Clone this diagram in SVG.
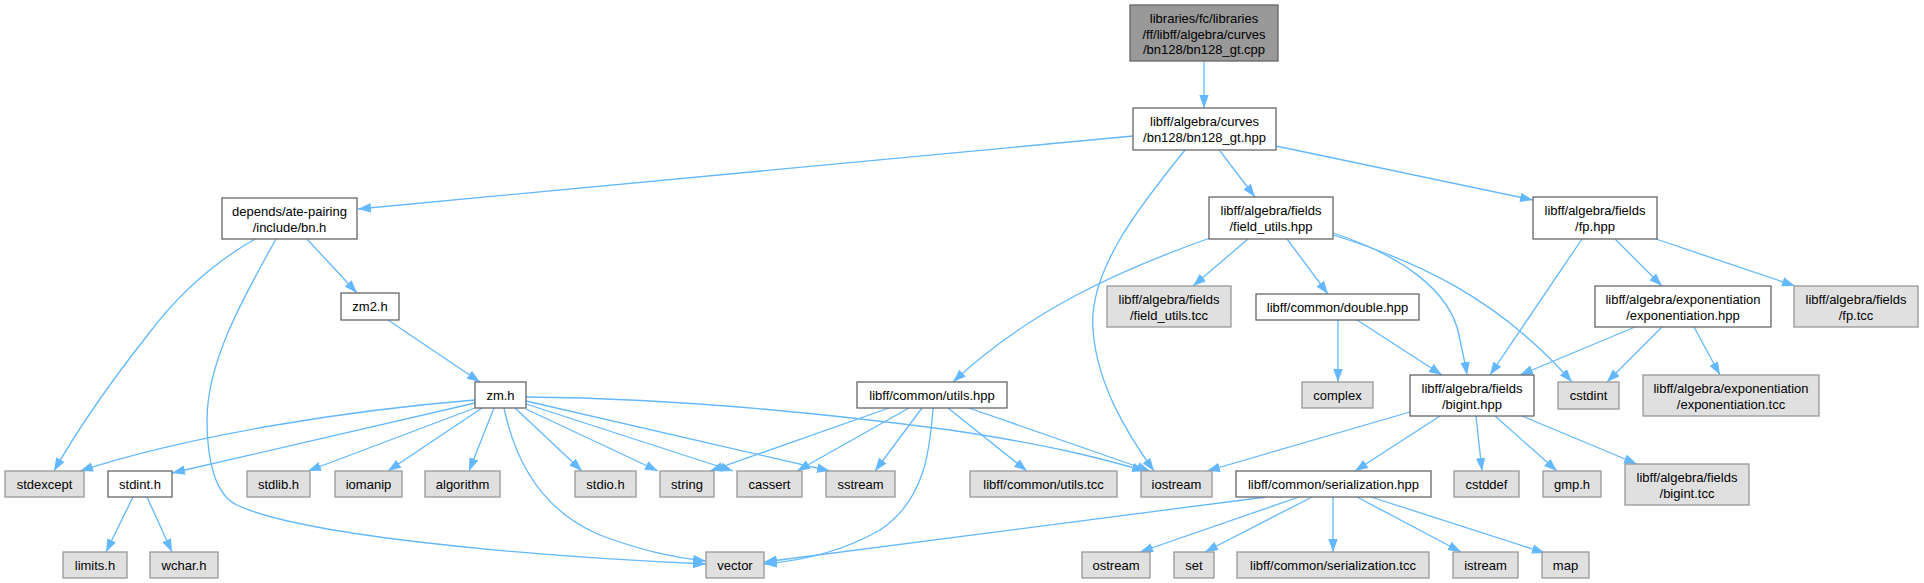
<svg xmlns="http://www.w3.org/2000/svg" width="1924" height="583" viewBox="0 0 1924 583">
<style>
.n rect{fill:#ffffff;stroke:#666666;stroke-width:1.3}
.g rect{fill:#e0e0e0;stroke:#999999;stroke-width:1.3}
.r rect{fill:#999999;stroke:#666666;stroke-width:1.3}
text{font-family:"Liberation Sans",Arial,sans-serif;font-size:13px;fill:#000;text-anchor:middle}
#edges path{fill:none;stroke:#63b8ff;stroke-width:1.3;marker-end:url(#ah)}
</style>
<defs>
<marker id="ah" markerUnits="userSpaceOnUse" markerWidth="14" markerHeight="10" refX="13" refY="4.75" orient="auto">
<path d="M0,0 L13,4.75 L0,9.5 z" fill="#63b8ff" stroke="none"/>
</marker>
</defs>
<rect width="1924" height="583" fill="#ffffff"/>
<g id="edges">
<path d="M1204,61 L1204,108"/>
<path d="M1133,136 L358,209"/>
<path d="M1185,150 C1138,208 1088,272 1093,330 C1097,385 1128,435 1154,471"/>
<path d="M1220,151 L1255,197"/>
<path d="M1276,146 L1533,200"/>
<path d="M255,239 C215,262 178,295 150,332 C120,370 80,425 54,471"/>
<path d="M276,239 C245,295 207,360 207,420 C207,460 215,495 237,505 C300,535 520,556 706,564"/>
<path d="M307,239 L357,293"/>
<path d="M388,320 L480,382"/>
<path d="M475,400 C350,410 190,435 80,471"/>
<path d="M475,403 C380,425 250,455 172,473"/>
<path d="M475,408 L308,471"/>
<path d="M482,408 L388,471"/>
<path d="M494,408 L469,471"/>
<path d="M504,408 C515,460 540,510 600,535 C640,550 670,557 706,561"/>
<path d="M515,408 L582,471"/>
<path d="M526,409 L658,471"/>
<path d="M526,404 L733,471"/>
<path d="M526,401 L830,471"/>
<path d="M526,397 C650,398 800,410 950,430 C1050,445 1100,458 1145,471"/>
<path d="M133,497 L106,552"/>
<path d="M147,497 L172,552"/>
<path d="M1210,238 C1120,270 1030,310 953,382"/>
<path d="M1248,239 L1193,286"/>
<path d="M1287,239 L1328,294"/>
<path d="M1333,233 C1400,255 1450,290 1459,335 C1462,350 1465,362 1467,375"/>
<path d="M1333,235 C1420,262 1500,300 1572,382"/>
<path d="M1582,239 L1490,375"/>
<path d="M1615,239 L1662,286"/>
<path d="M1656,239 L1795,286"/>
<path d="M1635,327 L1520,375"/>
<path d="M1662,327 L1607,382"/>
<path d="M1694,327 L1720,375"/>
<path d="M1338,320 L1338,382"/>
<path d="M1357,320 L1442,375"/>
<path d="M889,408 L710,471"/>
<path d="M909,408 L797,471"/>
<path d="M922,408 L875,471"/>
<path d="M933,408 C930,450 925,500 880,530 C840,553 800,561 764,564"/>
<path d="M948,408 L1027,471"/>
<path d="M969,408 L1150,471"/>
<path d="M1410,412 L1207,471"/>
<path d="M1440,416 L1355,471"/>
<path d="M1476,416 L1482,471"/>
<path d="M1495,416 L1557,471"/>
<path d="M1522,416 L1637,464"/>
<path d="M1266,497 L764,562"/>
<path d="M1299,497 L1140,552"/>
<path d="M1312,497 L1205,552"/>
<path d="M1333,497 L1333,552"/>
<path d="M1357,497 L1461,552"/>
<path d="M1371,497 L1545,553"/>
</g>
<g id="root" class="r"><rect x="1130" y="5" width="148" height="56"/><text x="1204" y="23">libraries/fc/libraries</text><text x="1204" y="38.5">/ff/libff/algebra/curves</text><text x="1204" y="54">/bn128/bn128_gt.cpp</text></g>
<g id="bn128_gt_hpp" class="n"><rect x="1133" y="108" width="143" height="42"/><text x="1204.5" y="126">libff/algebra/curves</text><text x="1204.5" y="141.5">/bn128/bn128_gt.hpp</text></g>
<g id="bn_h" class="n"><rect x="222" y="198" width="135" height="41"/><text x="289.5" y="216">depends/ate-pairing</text><text x="289.5" y="231.5">/include/bn.h</text></g>
<g id="zm2_h" class="n"><rect x="341" y="293" width="58" height="27"/><text x="370" y="311">zm2.h</text></g>
<g id="zm_h" class="n"><rect x="475" y="382" width="51" height="26"/><text x="500.5" y="400">zm.h</text></g>
<g id="field_utils_hpp" class="n"><rect x="1209" y="197" width="124" height="42"/><text x="1271" y="215">libff/algebra/fields</text><text x="1271" y="230.5">/field_utils.hpp</text></g>
<g id="fp_hpp" class="n"><rect x="1533" y="197" width="124" height="42"/><text x="1595" y="215">libff/algebra/fields</text><text x="1595" y="230.5">/fp.hpp</text></g>
<g id="field_utils_tcc" class="g"><rect x="1107" y="286" width="124" height="41"/><text x="1169" y="304">libff/algebra/fields</text><text x="1169" y="319.5">/field_utils.tcc</text></g>
<g id="double_hpp" class="n"><rect x="1256" y="294" width="163" height="26"/><text x="1337.5" y="312">libff/common/double.hpp</text></g>
<g id="exponentiation_hpp" class="n"><rect x="1595" y="286" width="176" height="41"/><text x="1683" y="304">libff/algebra/exponentiation</text><text x="1683" y="319.5">/exponentiation.hpp</text></g>
<g id="fp_tcc" class="g"><rect x="1794" y="286" width="124" height="41"/><text x="1856" y="304">libff/algebra/fields</text><text x="1856" y="319.5">/fp.tcc</text></g>
<g id="utils_hpp" class="n"><rect x="857" y="382" width="150" height="26"/><text x="932" y="400">libff/common/utils.hpp</text></g>
<g id="complex" class="g"><rect x="1302" y="382" width="71" height="26"/><text x="1337.5" y="400">complex</text></g>
<g id="bigint_hpp" class="n"><rect x="1410" y="375" width="124" height="41"/><text x="1472" y="393">libff/algebra/fields</text><text x="1472" y="408.5">/bigint.hpp</text></g>
<g id="cstdint" class="g"><rect x="1558" y="382" width="61" height="27"/><text x="1588.5" y="400">cstdint</text></g>
<g id="exponentiation_tcc" class="g"><rect x="1643" y="375" width="176" height="41"/><text x="1731" y="393">libff/algebra/exponentiation</text><text x="1731" y="408.5">/exponentiation.tcc</text></g>
<g id="stdexcept" class="g"><rect x="5" y="471" width="79" height="26"/><text x="44.5" y="489">stdexcept</text></g>
<g id="stdint_h" class="n"><rect x="108" y="471" width="64" height="26"/><text x="140" y="489">stdint.h</text></g>
<g id="stdlib_h" class="g"><rect x="247" y="471" width="63" height="26"/><text x="278.5" y="489">stdlib.h</text></g>
<g id="iomanip" class="g"><rect x="335" y="471" width="67" height="26"/><text x="368.5" y="489">iomanip</text></g>
<g id="algorithm" class="g"><rect x="425" y="471" width="75" height="26"/><text x="462.5" y="489">algorithm</text></g>
<g id="stdio_h" class="g"><rect x="575" y="471" width="61" height="26"/><text x="605.5" y="489">stdio.h</text></g>
<g id="string" class="g"><rect x="660" y="471" width="54" height="26"/><text x="687" y="489">string</text></g>
<g id="cassert" class="g"><rect x="737" y="471" width="65" height="26"/><text x="769.5" y="489">cassert</text></g>
<g id="sstream" class="g"><rect x="826" y="471" width="69" height="26"/><text x="860.5" y="489">sstream</text></g>
<g id="utils_tcc" class="g"><rect x="970" y="471" width="147" height="26"/><text x="1043.5" y="489">libff/common/utils.tcc</text></g>
<g id="iostream" class="g"><rect x="1141" y="471" width="71" height="26"/><text x="1176.5" y="489">iostream</text></g>
<g id="serialization_hpp" class="n"><rect x="1236" y="471" width="195" height="26"/><text x="1333.5" y="489">libff/common/serialization.hpp</text></g>
<g id="cstddef" class="g"><rect x="1454" y="471" width="65" height="26"/><text x="1486.5" y="489">cstddef</text></g>
<g id="gmp_h" class="g"><rect x="1543" y="471" width="58" height="26"/><text x="1572" y="489">gmp.h</text></g>
<g id="bigint_tcc" class="g"><rect x="1625" y="464" width="124" height="41"/><text x="1687" y="482">libff/algebra/fields</text><text x="1687" y="497.5">/bigint.tcc</text></g>
<g id="limits_h" class="g"><rect x="63" y="552" width="64" height="26"/><text x="95" y="570">limits.h</text></g>
<g id="wchar_h" class="g"><rect x="150" y="552" width="68" height="26"/><text x="184" y="570">wchar.h</text></g>
<g id="vector" class="g"><rect x="706" y="552" width="58" height="26"/><text x="735" y="570">vector</text></g>
<g id="ostream" class="g"><rect x="1082" y="552" width="68" height="26"/><text x="1116" y="570">ostream</text></g>
<g id="set" class="g"><rect x="1174" y="552" width="40" height="26"/><text x="1194" y="570">set</text></g>
<g id="serialization_tcc" class="g"><rect x="1237" y="552" width="192" height="26"/><text x="1333" y="570">libff/common/serialization.tcc</text></g>
<g id="istream" class="g"><rect x="1453" y="552" width="65" height="26"/><text x="1485.5" y="570">istream</text></g>
<g id="map" class="g"><rect x="1542" y="552" width="47" height="26"/><text x="1565.5" y="570">map</text></g>
</svg>
